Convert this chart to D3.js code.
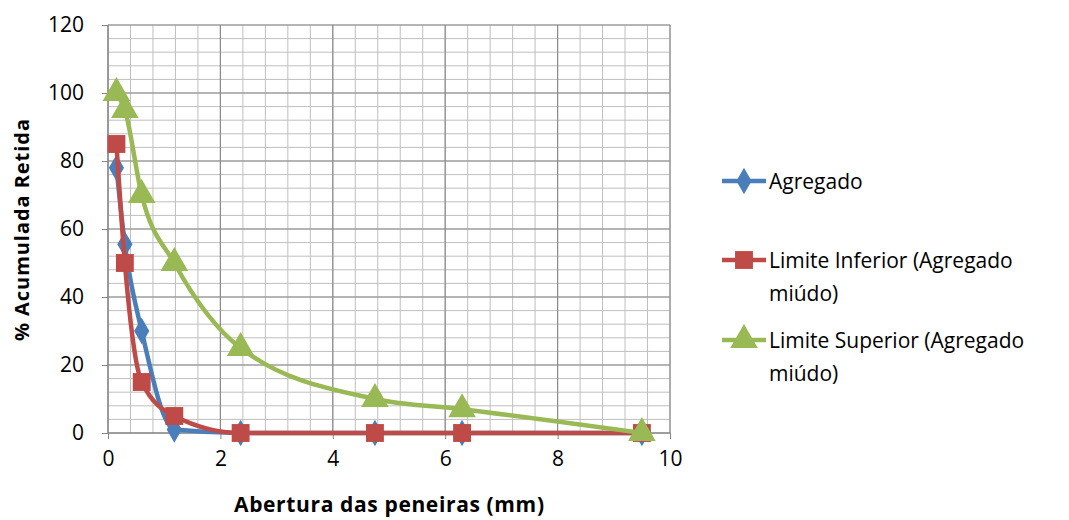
<!DOCTYPE html>
<html><head><meta charset="utf-8">
<script src="https://cdn.jsdelivr.net/npm/d3@7"></script>
<style>body{margin:0;background:#fff}text{font-family:"Open Sans",sans-serif}</style>
</head><body><svg id="c" width="1069" height="520"></svg>
<script>
const sieves = [0.15, 0.3, 0.6, 1.18, 2.36, 4.75, 6.3, 9.5];
const agregado = [78, 55.5, 30, 1, 0, 0, 0, 0];
const limInf = [85, 50, 15, 5, 0, 0, 0, 0];
const limSup = [100, 95, 70, 50, 25, 10, 7, 0];
const xTicks = [0, 2, 4, 6, 8, 10];
const yTicks = [0, 20, 40, 60, 80, 100, 120];

const svg = d3.select('#c');
const x = d3.scaleLinear().domain([0, 10]).range([108, 670]);
const y = d3.scaleLinear().domain([0, 120]).range([433, 25]);

// minor grid
svg.append('g').selectAll('line').data(d3.range(0, 10.01, 0.4)).enter().append('line')
  .attr('x1', d => x(d)).attr('x2', d => x(d)).attr('y1', y(0)).attr('y2', y(120))
  .attr('stroke', '#bfbfbf').attr('stroke-width', 1);
svg.append('g').selectAll('line').data(d3.range(0, 120.01, 4)).enter().append('line')
  .attr('y1', d => y(d)).attr('y2', d => y(d)).attr('x1', x(0)).attr('x2', x(10))
  .attr('stroke', '#bfbfbf').attr('stroke-width', 1);
// major grid
svg.append('g').selectAll('line').data(xTicks).enter().append('line')
  .attr('x1', d => x(d)).attr('x2', d => x(d)).attr('y1', y(0)).attr('y2', y(120))
  .attr('stroke', '#8c8c8c').attr('stroke-width', 1.2);
svg.append('g').selectAll('line').data(yTicks).enter().append('line')
  .attr('y1', d => y(d)).attr('y2', d => y(d)).attr('x1', x(0)).attr('x2', x(10))
  .attr('stroke', '#8c8c8c').attr('stroke-width', 1.2);

const xa = svg.append('g').attr('transform', `translate(0,${y(0)})`)
  .call(d3.axisBottom(x).tickValues(xTicks).tickSize(6).tickPadding(12).tickFormat(d3.format('d')));
const ya = svg.append('g').attr('transform', `translate(${x(0)},0)`)
  .call(d3.axisLeft(y).tickValues(yTicks).tickSize(6).tickPadding(18).tickFormat(d3.format('d')));
[xa, ya].forEach(a => {
  a.select('.domain').remove();
  a.selectAll('line').attr('stroke', '#868686');
  a.selectAll('text').attr('font-size', 21).attr('fill', '#000');
});
svg.append('line').attr('x1', x(0)).attr('x2', x(10)).attr('y1', y(0)).attr('y2', y(0)).attr('stroke', '#868686');
svg.append('line').attr('x1', x(0)).attr('x2', x(0)).attr('y1', y(0)).attr('y2', y(120)).attr('stroke', '#868686');

svg.append('text').attr('x', 389).attr('y', 512).attr('text-anchor', 'middle')
  .attr('font-size', 21).attr('font-weight', 'bold').attr('textLength', 310).text('Abertura das peneiras (mm)');
svg.append('text').attr('transform', 'translate(29,230) rotate(-90)').attr('text-anchor', 'middle')
  .attr('font-size', 20).attr('font-weight', 'bold').attr('textLength', 222).text('% Acumulada Retida');

const line = d3.line().x(d => x(d[0])).y(d => y(d[1])).curve(d3.curveMonotoneX);
const series = [
  {vals: agregado, color: '#4a7ebb', sym: d3.symbolDiamond, size: 200},
  {vals: limInf, color: '#be4b48', sym: d3.symbolSquare, size: 320},
  {vals: limSup, color: '#98b954', sym: d3.symbolTriangle, size: 330}
];
series.forEach(s => {
  const pts = sieves.map((v, i) => [v, s.vals[i]]);
  svg.append('path').attr('d', line(pts)).attr('fill', 'none')
    .attr('stroke', s.color).attr('stroke-width', 4.5);
  svg.append('g').selectAll('path').data(pts).enter().append('path')
    .attr('d', d3.symbol().type(s.sym).size(s.size))
    .attr('transform', d => `translate(${x(d[0])},${y(d[1])})`).attr('fill', s.color);
});

const legend = [
  {lines: ['Agregado'], y: 181},
  {lines: ['Limite Inferior (Agregado', 'miúdo)'], y: 260},
  {lines: ['Limite Superior (Agregado', 'miúdo)'], y: 340}
];
legend.forEach((l, i) => {
  const s = series[i];
  svg.append('line').attr('x1', 722).attr('x2', 766).attr('y1', l.y).attr('y2', l.y)
    .attr('stroke', s.color).attr('stroke-width', 4.5);
  svg.append('path').attr('d', d3.symbol().type(s.sym).size(s.size))
    .attr('transform', `translate(744,${l.y})`).attr('fill', s.color);
  l.lines.forEach((t, j) => svg.append('text').attr('x', 769).attr('y', l.y + 8 + j * 33)
    .attr('font-size', 21).text(t));
});
</script></body></html>
